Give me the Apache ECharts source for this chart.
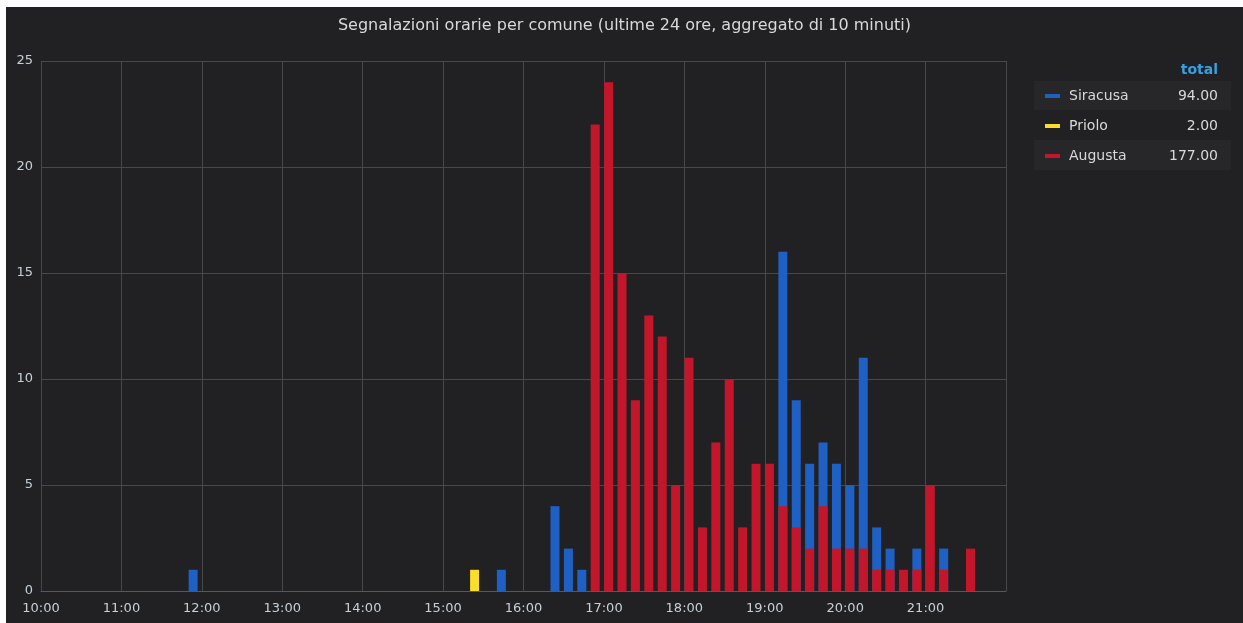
<!DOCTYPE html>
<html>
<head>
<meta charset="utf-8">
<script src="https://cdn.jsdelivr.net/npm/echarts@6/dist/echarts.min.js"></script>
<style>
  html, body { margin: 0; padding: 0; background: #ffffff; }
  #chart { position: absolute; left: 6px; top: 7px; width: 1237px; height: 616px; background: #212124; }
</style>
</head>
<body>
<div id="chart"></div>
<script>
  // bucket timestamps (HH:MM) and counts per comune
  var siracusaTimes = ['11:53', '15:43', '16:23', '16:33', '16:43', '19:13', '19:23', '19:33', '19:43', '19:53', '20:03', '20:13', '20:23', '20:33', '20:53', '21:13'];
  var siracusaValues = [1, 1, 4, 2, 1, 16, 9, 6, 7, 6, 5, 11, 3, 2, 2, 2];

  var prioloTimes = ['15:23'];
  var prioloValues = [1];

  var augustaTimes = ['16:53', '17:03', '17:13', '17:23', '17:33', '17:43', '17:53', '18:03', '18:13', '18:23', '18:33', '18:43', '18:53', '19:03',
    '19:13', '19:23', '19:33', '19:43', '19:53', '20:03', '20:13', '20:23', '20:33', '20:43', '20:53', '21:03', '21:13', '21:33'];
  var augustaValues = [22, 24, 15, 9, 13, 12, 5, 11, 3, 7, 10, 3, 6, 6,
    4, 3, 2, 4, 2, 2, 2, 1, 1, 1, 1, 5, 1, 2];

  var seriesNames = ['Siracusa', 'Priolo', 'Augusta'];
  var seriesColors = ['#1f60c4', '#fade2a', '#c4162a'];
  var legendTotals = ['94.00', '2.00', '177.00'];

  var yTicks = [0, 5, 10, 15, 20, 25];

  function toHours(t) {
    var p = t.split(':');
    return parseInt(p[0], 10) + (parseInt(p[1], 10) + 0.5) / 60;
  }
  function pairs(times, values) {
    return times.map(function (t, i) { return [toHours(t), values[i]]; });
  }

  var font = 'DejaVu Sans';
  var gridColor = '#48484b';
  var chart = echarts.init(document.getElementById('chart'));

  var seriesData = [
    pairs(siracusaTimes, siracusaValues),
    pairs(prioloTimes, prioloValues),
    pairs(augustaTimes, augustaValues)
  ];

  chart.setOption({
    backgroundColor: '#212124',
    animation: false,
    title: {
      text: 'Segnalazioni orarie per comune (ultime 24 ore, aggregato di 10 minuti)',
      left: 'center',
      top: 6,
      textStyle: { color: '#d8d9da', fontSize: 16, fontWeight: 'normal', fontFamily: font }
    },
    grid: { left: 35, right: 237, top: 54, bottom: 32 },
    legend: {
      orient: 'vertical',
      left: 1034,
      top: 77,
      itemWidth: 15,
      itemHeight: 4,
      itemGap: 16,
      icon: 'rect',
      data: seriesNames,
      formatter: function (name) {
        var i = seriesNames.indexOf(name);
        return '{n|' + name + '}{v|' + legendTotals[i] + '}';
      },
      textStyle: {
        color: '#d8d9da',
        fontFamily: font,
        fontSize: 14,
        rich: {
          n: { width: 100, padding: [0, 0, 0, 4], fontFamily: font, fontSize: 14, color: '#d8d9da', height: 16 },
          v: { width: 49, align: 'right', fontFamily: font, fontSize: 14, color: '#d8d9da', height: 16 }
        }
      }
    },
    graphic: [
      { type: 'rect', left: 1028, top: 74, z: -1, shape: { width: 197, height: 29 }, style: { fill: '#272729' } },
      { type: 'rect', left: 1028, top: 133, z: -1, shape: { width: 197, height: 30 }, style: { fill: '#272729' } },
      {
        type: 'text', right: 25, top: 56,
        style: { text: 'total', fill: '#33a2e5', font: 'bold 14px "DejaVu Sans"' }
      }
    ],
    xAxis: {
      type: 'value',
      min: 10,
      max: 22,
      interval: 1,
      axisLine: { show: true, lineStyle: { color: '#58585b' } },
      axisTick: { show: false },
      axisLabel: {
        color: '#c7d0d9',
        fontFamily: font,
        fontSize: 13,
        margin: 11,
        formatter: function (v) {
          if (v >= 22) return '';
          return v + ':00';
        }
      },
      splitLine: { show: true, lineStyle: { color: gridColor } }
    },
    yAxis: {
      type: 'value',
      min: yTicks[0],
      max: yTicks[yTicks.length - 1],
      interval: 5,
      axisLine: { show: false },
      axisTick: { show: false },
      axisLabel: { color: '#c7d0d9', fontFamily: font, fontSize: 13, margin: 8 },
      splitLine: { lineStyle: { color: gridColor } }
    },
    series: seriesNames.map(function (name, i) {
      return {
        name: name,
        type: 'bar',
        barWidth: 9,
        barGap: '-100%',
        itemStyle: { color: seriesColors[i] },
        data: seriesData[i]
      };
    })
  });
</script>
</body>
</html>
